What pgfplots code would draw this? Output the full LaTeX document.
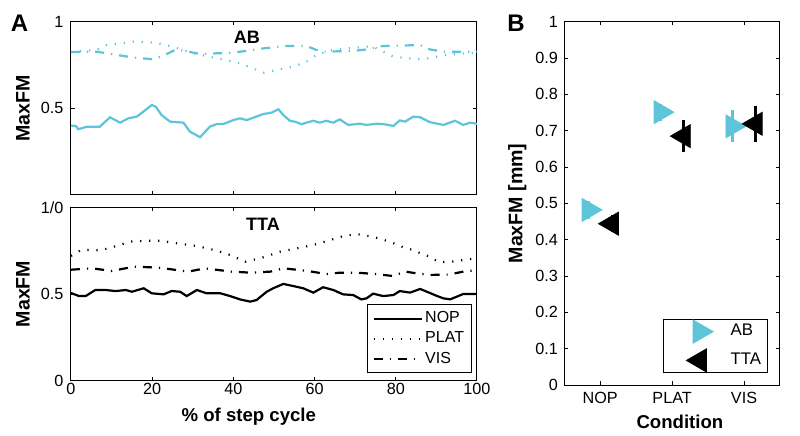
\documentclass[border=0pt]{standalone}
\usepackage{fontspec}
\setmainfont{Liberation Sans}
\usepackage{pgfplots}
\pgfplotsset{compat=1.18}
\definecolor{abc}{RGB}{92,197,216}
\begin{document}
\begin{tikzpicture}
\useasboundingbox (0pt,0pt) rectangle (400pt,217.5pt);
\pgfplotsset{
  base/.style={
    scale only axis, anchor=south west,
    axis line style={line width=0.5pt},
    every tick/.style={black,line width=0.5pt},
    major tick length=1.8pt,
    tick align=inside,
    /pgf/number format/assume math mode=true,
    tick label style={font=\fontsize{8.1}{9.7}\selectfont},
    ylabel style={font=\bfseries\fontsize{9.8}{11}\selectfont},
    xlabel style={font=\bfseries\fontsize{9.3}{11}\selectfont},
  },
  solidA/.style={line width=1.1pt},
  dotA/.style={line width=1.1pt, dash pattern=on 0.6pt off 3.9pt},
  dashdotA/.style={line width=1.1pt, dash pattern=on 4.5pt off 3.5pt on 0.6pt off 3.5pt},
}
% ---------- Panel A top: AB ----------
\begin{axis}[base, at={(35.5pt,120.05pt)}, width=203pt, height=86.6pt,
  xmin=0,xmax=100,ymin=0,ymax=1,
  xtick={0,20,40,60,80,100}, xticklabels={},
  ytick={0.5,1},
  yticklabel style={inner sep=3.6pt},
  ylabel={MaxFM}, ylabel style={at={(axis description cs:-0.118,0.5)},anchor=center},
]
\addplot[abc, solidA] coordinates {
(0,0.40) (1.2,0.398) (1.8,0.379) (3.9,0.394) (7.1,0.394) (9.6,0.448) (12.1,0.417)
(14.1,0.442) (16.2,0.452) (17.8,0.480) (19.9,0.519) (20.9,0.509) (22.3,0.461)
(24.4,0.423) (27.7,0.417) (29.3,0.365) (31.8,0.333) (34.2,0.394) (35.9,0.409)
(37.5,0.409) (40,0.432) (41.6,0.442) (43.3,0.432) (47.4,0.467) (49.4,0.475)
(51.1,0.494) (52.3,0.461) (53.9,0.428) (55.1,0.423) (56.8,0.408) (58,0.417)
(59.7,0.428) (61.3,0.417) (62.9,0.428) (64.6,0.417) (66.2,0.436) (68.3,0.404)
(71.2,0.411) (72.8,0.404) (75.3,0.411) (76.9,0.409) (79.4,0.398) (81,0.430)
(82.3,0.423) (84.3,0.452) (86,0.448) (88.4,0.420) (91.7,0.404) (94.6,0.428)
(96.6,0.404) (98.3,0.417) (100,0.411)};
\addplot[abc, dotA] coordinates {
(0,0.825) (1.2,0.827) (6.3,0.837) (8.8,0.865) (15.2,0.885) (20.9,0.879) (25,0.856)
(30.3,0.817) (35.9,0.789) (41.6,0.760) (47.4,0.706) (50.6,0.721) (54.7,0.740)
(58,0.769) (60.4,0.808) (64.6,0.837) (72.8,0.856) (74.4,0.856) (79.4,0.798)
(85.4,0.783) (88.4,0.789) (92,0.808) (96,0.815) (100,0.82)};
\addplot[abc, dashdotA] coordinates {
(0,0.825) (3.9,0.827) (6.3,0.827) (11.3,0.808) (15.2,0.794) (20.1,0.783) (22.6,0.802)
(25.9,0.840) (31.8,0.814) (40,0.821) (47.4,0.846) (53,0.860) (58,0.860) (60.4,0.837)
(62,0.827) (69.5,0.831) (72.8,0.840) (76.9,0.860) (86,0.865) (88.4,0.840)
(91.7,0.827) (96.6,0.827) (100,0.827)};
\node[font=\bfseries\fontsize{9}{10}\selectfont] at (rel axis cs:0.433,0.912) {AB};
\end{axis}
% ---------- Panel A bottom: TTA ----------
\begin{axis}[base, at={(35.5pt,27.15pt)}, width=203pt, height=86.7pt,
  xmin=0,xmax=100,ymin=0,ymax=1,
  xtick={0,20,40,60,80,100},
  xticklabel style={inner sep=0.8pt},
  ytick={0,0.5,1}, yticklabels={0,0.5,1/0},
  yticklabel style={inner sep=3.6pt},
  ylabel={MaxFM}, ylabel style={at={(axis description cs:-0.118,0.5)},anchor=center},
  xlabel={\% of step cycle}, xlabel style={at={(axis description cs:0.438,-0.207)},anchor=center},
  legend style={at={(0.988,0.043)}, anchor=south east, draw=black, line width=0.5pt,
    font=\fontsize{8}{9}\selectfont, inner xsep=2.5pt, inner ysep=2pt, row sep=0.45pt,
    nodes={inner sep=1.3pt}, cells={anchor=west}},
  legend image code/.code={\draw[#1] (0pt,0pt) -- (24pt,0pt);},
]
\addplot[black, solidA] coordinates {
(0,0.504) (0.2,0.504) (2,0.488) (3.6,0.488) (6,0.523) (8.5,0.523) (11,0.517)
(13.5,0.523) (15,0.513) (17.9,0.533) (19.9,0.504) (22.8,0.498) (24.8,0.517)
(26.9,0.513) (28.5,0.488) (31,0.523) (33.4,0.504) (36.8,0.504) (39.2,0.488)
(41.6,0.469) (44.1,0.456) (45.7,0.465) (48.2,0.513) (49.8,0.533) (52.3,0.558)
(54.7,0.546) (57.2,0.533) (59.7,0.508) (62.1,0.539) (64.6,0.523) (67,0.498)
(69.5,0.494) (71.5,0.469) (72.8,0.475) (74.4,0.502) (76.9,0.488) (79.4,0.494)
(81,0.517) (83.5,0.508) (86,0.529) (88.4,0.506) (90,0.490) (91.7,0.475)
(93.4,0.469) (96.6,0.500) (100,0.500)};
\addlegendentry{NOP}
\addplot[black, dotA] coordinates {
(0,0.72) (0.5,0.725) (2.5,0.754) (7.4,0.752) (10.6,0.773) (14.6,0.802) (18.7,0.807)
(22,0.807) (26.1,0.792) (31,0.777) (35.9,0.750) (39.2,0.725) (42.9,0.686)
(46.6,0.706) (51.5,0.744) (55.6,0.763) (59.7,0.783) (63.8,0.811) (67.1,0.834)
(70.3,0.846) (74.4,0.830) (78.5,0.802) (82.5,0.763) (84.3,0.754) (86.5,0.73)
(88.4,0.715) (90.5,0.685) (93.4,0.685) (96.6,0.696) (100,0.706)};
\addlegendentry{PLAT}
\addplot[black, dashdotA] coordinates {
(0,0.640) (1.2,0.642) (5.2,0.648) (10,0.633) (15.6,0.658) (21.4,0.652) (24.8,0.642)
(28.9,0.629) (33,0.648) (39.5,0.629) (44.3,0.623) (49.1,0.629) (52.3,0.648)
(58,0.634) (62.9,0.615) (66.2,0.623) (70.3,0.623) (75.2,0.615) (79.2,0.604)
(82.4,0.629) (85.1,0.619) (88.4,0.610) (93,0.612) (96.6,0.629) (100,0.638)};
\addlegendentry{VIS}
\node[font=\bfseries\fontsize{9}{10}\selectfont] at (rel axis cs:0.473,0.904) {TTA};
\end{axis}
% ---------- Panel B ----------
\begin{axis}[base, at={(282.15pt,25pt)}, width=107.85pt, height=181.65pt,
  xmin=0.5,xmax=3.5,ymin=0,ymax=1,
  xtick={1,2,3}, xticklabels={NOP,PLAT,VIS},
  ytick={0,0.1,0.2,0.3,0.4,0.5,0.6,0.7,0.8,0.9,1},
  yticklabel style={inner sep=3pt},
  ylabel={MaxFM [mm]}, ylabel style={at={(axis description cs:-0.218,0.5)},anchor=center},
  xlabel={Condition}, xlabel style={at={(axis description cs:0.536,-0.101)},anchor=center},
  legend style={at={(0.946,0.032)}, anchor=south east, draw=black, line width=0.5pt,
    font=\fontsize{8.4}{10}\selectfont, inner xsep=3pt, inner ysep=0.5pt, row sep=3pt,
    nodes={inner sep=0.4pt}, cells={anchor=west}},
  legend image code/.code={\path[mark repeat=2,mark phase=2,#1] plot coordinates {(0pt,0pt) (15pt,0pt) (30pt,0pt)};},
]
% error bars (behind markers)
\addplot[forget plot, draw=none, mark=none,
  error bars/.cd, y dir=both, y explicit,
  error bar style={draw=abc, line width=1.5pt},
  error mark options={draw=abc, mark size=1.6pt, line width=1.2pt}]
  coordinates {(0.84,0.482) +- (0,0.015) (1.84,0.751) +- (0,0.015) (2.84,0.712) +- (0,0.035)};
\addplot[forget plot, draw=none, mark=none,
  error bars/.cd, y dir=both, y explicit,
  error bar style={draw=black, line width=1.5pt},
  error mark options={draw=black, mark size=1.6pt, line width=1.2pt}]
  coordinates {(1.16,0.444) +- (0,0.015) (2.16,0.685) +- (0,0.036) (3.16,0.719) +- (0,0.041)};
% markers
\addplot[draw=none, mark=triangle*, mark size=6.6pt,
  mark options={rotate=-90, fill=abc, draw=abc, solid}]
  coordinates {(0.84,0.482) (1.84,0.751) (2.84,0.712)};
\addlegendentry{AB}
\addplot[draw=none, mark=triangle*, mark size=6.6pt,
  mark options={rotate=90, fill=black, draw=black, solid}]
  coordinates {(1.16,0.444) (2.16,0.685) (3.16,0.719)};
\addlegendentry{TTA}
\end{axis}
\node[font=\bfseries\fontsize{12}{14}\selectfont] at (9.75pt,205.85pt) {A};
\node[font=\bfseries\fontsize{12}{14}\selectfont] at (258pt,205.85pt) {B};
\end{tikzpicture}
\end{document}
